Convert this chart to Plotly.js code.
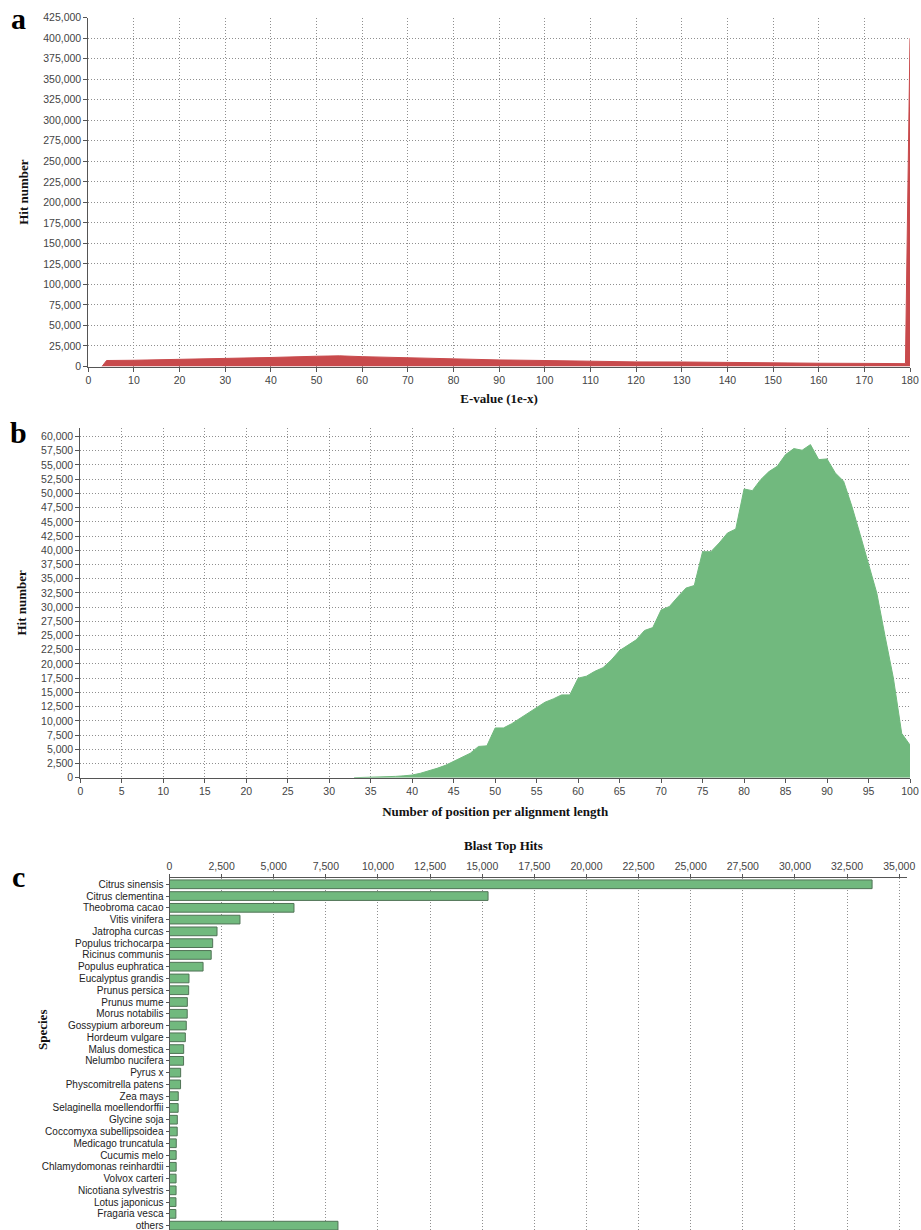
<!DOCTYPE html>
<html><head><meta charset="utf-8">
<script src="https://cdn.plot.ly/plotly-3.0.1.min.js"></script>
<style>html,body{margin:0;padding:0;background:#fff}#chart{width:921px;height:1230px}</style>
</head><body><div id="chart"></div>
<script>
// Panel a: E-value distribution
const evalueX = [3, 4, 10, 20, 30, 40, 50, 55, 60, 70, 80, 90, 100, 110, 120, 130, 140, 150, 160, 170, 179, 180];
const evalueHits = [0, 7300, 7600, 8500, 10000, 11000, 12500, 13000, 12000, 10500, 8800, 8000, 7300, 6300, 5600, 5500, 4800, 4500, 4000, 3800, 3500, 400000];

// Panel b: number of positions per alignment length
const identityX = [33,34,35,36,37,38,39,40,41,42,43,44,45,46,47,48,49,50,51,52,53,54,55,56,57,58,59,60,61,62,63,64,65,66,67,68,69,70,71,72,73,74,75,76,77,78,79,80,81,82,83,84,85,86,87,88,89,90,91,92,93,94,95,96,97,98,99,100];
const identityHits = [0,30,70,110,160,230,330,470,780,1170,1650,2170,2900,3640,4300,5500,5600,8750,8750,9500,10450,11400,12440,13270,13850,14560,14560,17500,17850,18700,19350,20700,22360,23300,24240,25890,26400,29500,30100,31760,33340,33800,39740,39740,41270,43030,43730,50780,50480,52420,53830,54770,56820,57880,57590,58580,55940,56060,53590,52130,47720,42730,37740,32460,24830,17490,7800,5750];

// Panel c: Blast top hits species
const species = ["Citrus sinensis","Citrus clementina","Theobroma cacao","Vitis vinifera","Jatropha curcas","Populus trichocarpa","Ricinus communis","Populus euphratica","Eucalyptus grandis","Prunus persica","Prunus mume","Morus notabilis","Gossypium arboreum","Hordeum vulgare","Malus domestica","Nelumbo nucifera","Pyrus x","Physcomitrella patens","Zea mays","Selaginella moellendorffii","Glycine soja","Coccomyxa subellipsoidea","Medicago truncatula","Cucumis melo","Chlamydomonas reinhardtii","Volvox carteri","Nicotiana sylvestris","Lotus japonicus","Fragaria vesca","others"];
const speciesHits = [33700,15280,5970,3380,2280,2070,2000,1610,935,920,855,850,805,760,680,675,535,530,420,415,375,370,325,320,320,315,315,310,305,8080];

const W = 921, H = 1230;
const px = v => v / W;
const py = v => 1 - v / H;

const tickFont = {family: "Liberation Sans, Arial, sans-serif", size: 10.5, color: "#444"};
const catFont = {family: "Liberation Sans, Arial, sans-serif", size: 10, color: "#222"};
const titleFont = {family: "Liberation Serif, Times New Roman, serif", size: 13, color: "#111", weight: "bold"};
const letterFont = {family: "Liberation Serif, Times New Roman, serif", size: 30, color: "#000", weight: "bold"};
const gridCommon = {showgrid: true, gridcolor: "#8f8f8f", griddash: "1px,2px", gridwidth: 1,
  showline: true, linecolor: "#555", linewidth: 1, ticks: "outside", ticklen: 4, tickcolor: "#555",
  tickfont: tickFont, zeroline: false};

const traces = [
  {type: "scatter", mode: "lines", x: evalueX, y: evalueHits, xaxis: "x", yaxis: "y",
   fill: "tozeroy", fillcolor: "rgb(200,74,76)", line: {color: "rgb(200,74,76)", width: 1}, hoverinfo: "x+y"},
  {type: "scatter", mode: "lines", x: identityX, y: identityHits, xaxis: "x2", yaxis: "y2",
   fill: "tozeroy", fillcolor: "rgb(113,185,126)", line: {color: "rgb(113,185,126)", width: 1}, hoverinfo: "x+y"},
  {type: "bar", orientation: "h", y: species, x: speciesHits, xaxis: "x3", yaxis: "y3",
   marker: {color: "rgb(113,185,126)", line: {color: "rgb(80,115,86)", width: 1}}, hoverinfo: "x+y"}
];

const layout = {
  width: W, height: H, margin: {l: 0, r: 0, t: 0, b: 0}, showlegend: false,
  paper_bgcolor: "#fff", plot_bgcolor: "#fff",
  xaxis: Object.assign({}, gridCommon, {domain: [px(88.3), px(910)], range: [0, 180], dtick: 10, tick0: 0,
    anchor: "y", title: {text: "E-value (1e-x)", font: titleFont, standoff: 8}}),
  yaxis: Object.assign({}, gridCommon, {domain: [py(366.5), py(17.7)], range: [0, 425000], dtick: 25000, tick0: 0,
    tickformat: ",d", anchor: "x", title: {text: "Hit number", font: titleFont, standoff: 11}}),
  xaxis2: Object.assign({}, gridCommon, {domain: [px(80.3), px(910)], range: [0, 100], dtick: 5, tick0: 0,
    anchor: "y2", title: {text: "Number of position per alignment length", font: titleFont, standoff: 10}}),
  yaxis2: Object.assign({}, gridCommon, {domain: [py(777.7), py(428)], range: [0, 61500], dtick: 2500, tick0: 0,
    tickformat: ",d", anchor: "x2", title: {text: "Hit number", font: titleFont, standoff: 11}}),
  xaxis3: Object.assign({}, gridCommon, {domain: [px(169.5), px(906.7)], range: [0, 35360], dtick: 2500, tick0: 0,
    tickformat: ",d", side: "top", anchor: "y3", ticklen: 3}),
  yaxis3: {domain: [0, py(878.4)], range: [29.37, -0.5], type: "category", anchor: "x3",
    tickmode: "array", tickvals: species, ticktext: species,
    showgrid: false, showline: true, linecolor: "#555", linewidth: 1, ticks: "outside", ticklen: 3, tickcolor: "#555",
    tickfont: catFont, zeroline: false},
  bargap: 0.26,
  annotations: [
    {text: "a", x: px(18), y: py(18), xref: "paper", yref: "paper", xanchor: "center", yanchor: "middle", showarrow: false, font: letterFont},
    {text: "b", x: px(18), y: py(432), xref: "paper", yref: "paper", xanchor: "center", yanchor: "middle", showarrow: false, font: letterFont},
    {text: "c", x: px(18), y: py(876), xref: "paper", yref: "paper", xanchor: "center", yanchor: "middle", showarrow: false, font: letterFont},
    {text: "Blast Top Hits", x: px(503), y: py(845), xref: "paper", yref: "paper", xanchor: "center", yanchor: "middle", showarrow: false, font: titleFont},
    {text: "Species", x: px(42), y: py(1030), xref: "paper", yref: "paper", xanchor: "center", yanchor: "middle", showarrow: false, textangle: -90, font: titleFont}
  ]
};

Plotly.newPlot("chart", traces, layout, {displayModeBar: false, staticPlot: true});
</script>
</body></html>
